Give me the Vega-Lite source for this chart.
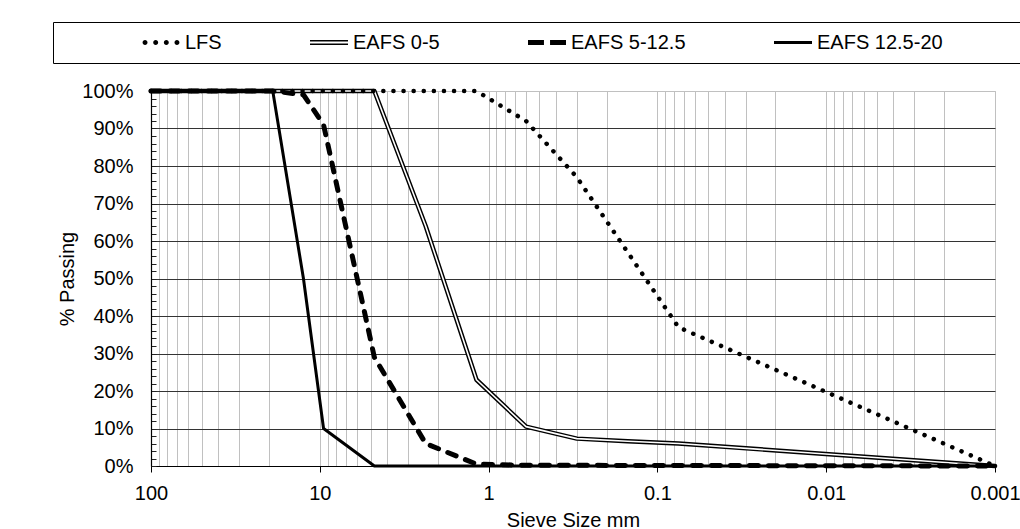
{
  "$schema": "https://vega.github.io/schema/vega-lite/v6.json",
  "width": 844,
  "height": 375,
  "autosize": "none",
  "padding": {"left": 151, "top": 91, "right": 25, "bottom": 63},
  "background": "white",
  "config": {
    "font": "Liberation Sans",
    "view": {"stroke": "#c0c0c0"},
    "line": {"strokeCap": "round", "strokeJoin": "round"}
  },
  "data": {
    "values": [
      {"series": "LFS", "size": 100, "passing": 100},
      {"series": "LFS", "size": 1.18, "passing": 100},
      {"series": "LFS", "size": 0.6, "passing": 92},
      {"series": "LFS", "size": 0.3, "passing": 77},
      {"series": "LFS", "size": 0.15, "passing": 57},
      {"series": "LFS", "size": 0.075, "passing": 37},
      {"series": "LFS", "size": 0.001, "passing": 0},
      {"series": "EAFS 0-5", "size": 100, "passing": 100},
      {"series": "EAFS 0-5", "size": 4.75, "passing": 100},
      {"series": "EAFS 0-5", "size": 2.36, "passing": 64},
      {"series": "EAFS 0-5", "size": 1.18, "passing": 23},
      {"series": "EAFS 0-5", "size": 0.6, "passing": 10.5},
      {"series": "EAFS 0-5", "size": 0.3, "passing": 7.3},
      {"series": "EAFS 0-5", "size": 0.15, "passing": 6.6},
      {"series": "EAFS 0-5", "size": 0.075, "passing": 6},
      {"series": "EAFS 0-5", "size": 0.001, "passing": 0},
      {"series": "EAFS 5-12.5", "size": 100, "passing": 100},
      {"series": "EAFS 5-12.5", "size": 19, "passing": 100},
      {"series": "EAFS 5-12.5", "size": 12.5, "passing": 99},
      {"series": "EAFS 5-12.5", "size": 9.5, "passing": 91},
      {"series": "EAFS 5-12.5", "size": 4.75, "passing": 29},
      {"series": "EAFS 5-12.5", "size": 2.36, "passing": 6},
      {"series": "EAFS 5-12.5", "size": 1.18, "passing": 0.5},
      {"series": "EAFS 5-12.5", "size": 0.6, "passing": 0.2},
      {"series": "EAFS 5-12.5", "size": 0.001, "passing": 0},
      {"series": "EAFS 12.5-20", "size": 100, "passing": 100},
      {"series": "EAFS 12.5-20", "size": 19, "passing": 100},
      {"series": "EAFS 12.5-20", "size": 12.5, "passing": 50},
      {"series": "EAFS 12.5-20", "size": 9.5, "passing": 10},
      {"series": "EAFS 12.5-20", "size": 4.75, "passing": 0},
      {"series": "EAFS 12.5-20", "size": 0.001, "passing": 0}
    ]
  },
  "encoding": {
    "x": {
      "field": "size",
      "type": "quantitative",
      "title": "Sieve Size mm",
      "scale": {"type": "log", "domain": [0.001, 100], "reverse": true, "nice": false},
      "axis": {
        "values": [0.001, 0.002, 0.003, 0.004, 0.005, 0.006, 0.007, 0.008, 0.009, 0.01, 0.02, 0.03, 0.04, 0.05, 0.06, 0.07, 0.08, 0.09, 0.1, 0.2, 0.3, 0.4, 0.5, 0.6, 0.7, 0.8, 0.9, 1, 2, 3, 4, 5, 6, 7, 8, 9, 10, 20, 30, 40, 50, 60, 70, 80, 90, 100],
        "labelExpr": "indexof([100, 10, 1, 0.1, 0.01, 0.001], datum.value) >= 0 ? '' + datum.value : ''",
        "labelOverlap": false,
        "labelFlush": false,
        "labelFontSize": 20,
        "labelColor": "black",
        "labelPadding": 11,
        "tickSize": 6,
        "tickColor": "black",
        "tickOpacity": {"condition": {"test": "indexof([100, 10, 1, 0.1, 0.01, 0.001], datum.value) >= 0", "value": 1}, "value": 0},
        "gridColor": "#c0c0c0",
        "gridWidth": 1,
        "domainColor": "black",
        "domainWidth": 1.2,
        "titleFontSize": 20,
        "titleFontWeight": "normal",
        "titleColor": "black",
        "titlePadding": 7
      }
    },
    "y": {
      "field": "passing",
      "type": "quantitative",
      "title": "% Passing",
      "scale": {"domain": [0, 100], "nice": false},
      "axis": {
        "values": [0, 2, 4, 6, 8, 10, 12, 14, 16, 18, 20, 22, 24, 26, 28, 30, 32, 34, 36, 38, 40, 42, 44, 46, 48, 50, 52, 54, 56, 58, 60, 62, 64, 66, 68, 70, 72, 74, 76, 78, 80, 82, 84, 86, 88, 90, 92, 94, 96, 98, 100],
        "labelExpr": "datum.value % 10 === 0 ? datum.value + '%' : ''",
        "labelOverlap": false,
        "labelFlush": false,
        "labelFontSize": 20,
        "labelColor": "black",
        "labelPadding": 23,
        "tickSize": -5,
        "tickColor": "#222222",
        "gridColor": {"condition": {"test": "datum.value === 100", "value": "#c0c0c0"}, "value": "#333333"},
        "gridOpacity": {"condition": {"test": "datum.value % 10 === 0", "value": 1}, "value": 0},
        "domainColor": "black",
        "domainWidth": 1.2,
        "titleFontSize": 20,
        "titleFontWeight": "normal",
        "titleColor": "black",
        "titlePadding": 4
      }
    }
  },
  "layer": [
    {
      "transform": [{"filter": "datum.series === 'EAFS 0-5'"}],
      "mark": {"type": "line", "color": "black", "strokeWidth": 4.5}
    },
    {
      "transform": [{"filter": "datum.series === 'EAFS 0-5'"}],
      "mark": {"type": "line", "color": "white", "strokeWidth": 1.6}
    },
    {
      "transform": [{"filter": "datum.series === 'LFS'"}],
      "mark": {"type": "line", "color": "black", "strokeWidth": 4.5, "strokeDash": [0.1, 10]}
    },
    {
      "transform": [{"filter": "datum.series === 'EAFS 5-12.5'"}],
      "mark": {"type": "line", "color": "black", "strokeWidth": 5, "strokeDash": [9, 10]}
    },
    {
      "transform": [{"filter": "datum.series === 'EAFS 12.5-20'"}],
      "mark": {"type": "line", "color": "black", "strokeWidth": 3}
    },
    {
      "mark": {"type": "point", "filled": true, "color": "black", "opacity": 0},
      "encoding": {
        "shape": {
          "field": "series",
          "type": "nominal",
          "scale": {
            "domain": ["LFS", "EAFS 0-5", "EAFS 5-12.5", "EAFS 12.5-20"],
            "range": [
              "M-0.97,0a0.13,0.13 0 1,0 0.26,0a0.13,0.13 0 1,0 -0.26,0ZM-0.41,0a0.13,0.13 0 1,0 0.26,0a0.13,0.13 0 1,0 -0.26,0ZM0.15,0a0.13,0.13 0 1,0 0.26,0a0.13,0.13 0 1,0 -0.26,0ZM0.71,0a0.13,0.13 0 1,0 0.26,0a0.13,0.13 0 1,0 -0.26,0Z",
              "M-1,-0.13H1V-0.05H-1ZM-1,0.05H1V0.13H-1Z",
              "M-1,-0.13H-0.16V0.13H-1ZM0.16,-0.13H1V0.13H0.16Z",
              "M-1,-0.08H1V0.08H-1Z"
            ]
          },
          "legend": {
            "orient": "none",
            "legendX": -98,
            "legendY": -69,
            "direction": "horizontal",
            "title": " ",
            "titleOrient": "left",
            "titlePadding": 87,
            "titleFontSize": 20,
            "padding": 2,
            "clipHeight": 37,
            "strokeColor": "black",
            "fillColor": "white",
            "symbolSize": 1444,
            "symbolOpacity": 1,
            "symbolFillColor": "black",
            "symbolStrokeColor": "transparent",
            "symbolStrokeWidth": 0,
            "labelFontSize": 20,
            "labelColor": "black",
            "labelOffset": 5,
            "labelLimit": 600,
            "columnPadding": 88,
            "labelExpr": "datum.label === 'EAFS 12.5-20' ? datum.label + '\u00a0\u00a0\u00a0\u00a0\u00a0\u00a0\u00a0\u00a0\u00a0\u00a0\u00a0\u2800' : datum.label"
          }
        }
      }
    }
  ]
}
